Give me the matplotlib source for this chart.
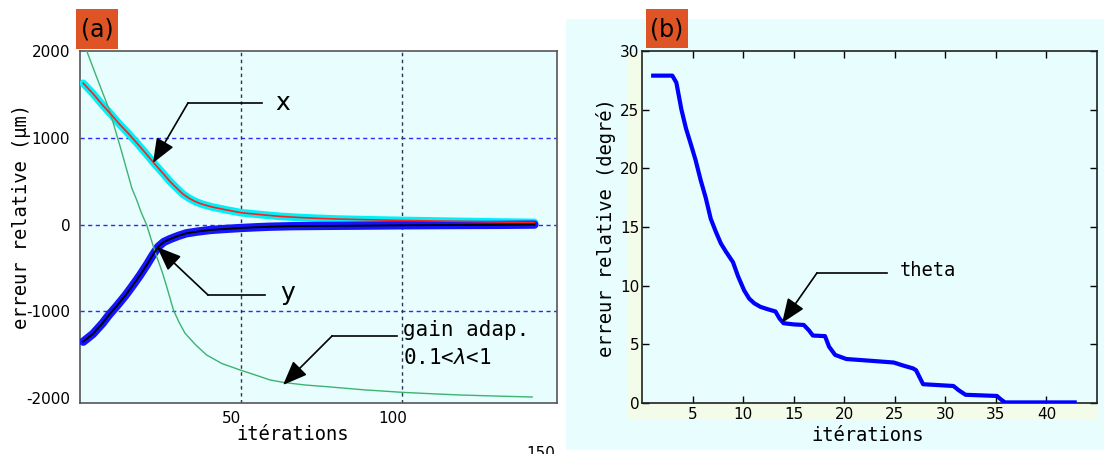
import matplotlib
matplotlib.use('Agg')
import matplotlib.pyplot as plt
from matplotlib.patches import Rectangle
from matplotlib.transforms import ScaledTranslation

plt.rcParams['axes.unicode_minus'] = False
plt.rcParams['font.family'] = ['DejaVu Sans']

# ---------------- data (a) ----------------
iters_x = [1, 4, 7, 10, 12, 15, 18, 21, 23, 26, 28, 30, 32, 34, 36, 38, 41, 44.5, 50,
           56, 62, 68, 74, 80, 87, 93, 100, 110, 120, 130, 141]
x_err = [1628, 1510, 1378, 1255, 1167, 1050, 925, 795, 706, 580, 494, 420, 350, 300, 262,
         234, 203, 176, 137, 115, 95, 82, 72, 64, 58, 53, 48, 42, 36, 30, 25]

iters_y = [1, 4, 7, 9, 11.4, 14, 16, 18.5, 20.7, 22.5, 24.3, 26, 28, 30.5, 33, 36.5,
           40.4, 45, 50, 55, 59, 66, 75, 87, 100, 115, 130, 141]
y_err = [-1349, -1260, -1137, -1040, -938, -820, -720, -590, -465, -355, -255, -200,
         -166, -130, -100, -80, -62, -50, -39, -30, -24, -18, -15, -12, -8, -5, -3, 0]

iters_g = [1, 2.1, 5, 9.3, 13, 16.1, 17.6, 19, 20.7, 22.2, 23.8, 25.5, 26.9, 29, 30.8,
           32.6, 36, 39.3, 44, 49.7, 55, 59, 63.7, 70, 76.6, 88, 99.9, 110, 118, 130, 140.3]
gain = [2110, 2000, 1715, 1300, 830, 418, 283, 140, -5, -185, -370, -545, -715, -984,
        -1130, -1252, -1390, -1502, -1600, -1675, -1740, -1790, -1821, -1848, -1867,
        -1903, -1932, -1950, -1963, -1976, -1986]

a_yticks = [-2000, -1000, 0, 1000, 2000]
a_xticks = [50, 100]

# ---------------- data (b) ----------------
iters_t = [0.9, 3.0, 3.4, 3.9, 4.35, 4.85, 5.3, 5.8, 6.3, 6.8, 7.3, 7.8, 8.3, 9.0, 9.5,
           10.1, 10.6, 11.1, 11.7, 12.4, 13.2, 13.6, 14.0, 15.0, 16.0, 16.5, 16.9, 18.1,
           18.5, 19.1, 20.2, 22.6, 24.9, 25.8, 26.8, 27.1, 27.8, 30.8, 31.3, 32.0, 35.1,
           35.5, 35.9, 43.0]
theta = [27.9, 27.9, 27.3, 25.0, 23.4, 22.0, 20.7, 19.0, 17.5, 15.7, 14.6, 13.6, 12.9,
         12.0, 10.8, 9.6, 8.9, 8.5, 8.2, 8.0, 7.8, 7.2, 6.8, 6.7, 6.65, 6.2, 5.75, 5.7,
         4.8, 4.1, 3.75, 3.6, 3.45, 3.2, 2.95, 2.8, 1.6, 1.45, 1.1, 0.7, 0.6, 0.3, 0.05, 0.05]

b_yticks = [0, 5, 10, 15, 20, 25, 30]
b_xticks = [5, 10, 15, 20, 25, 30, 35, 40]

W, H = 1104, 454
fig = plt.figure(figsize=(W / 100, H / 100), dpi=100)


def fbox(x0, y0, x1, y1):
    return [x0 / W, 1 - y1 / H, (x1 - x0) / W, (y1 - y0) / H]


# background panels
fig.patches.append(Rectangle((566 / W, 1 - 450 / H), (W - 566) / W, (450 - 19) / H,
                             transform=fig.transFigure, facecolor='#e8fdfd',
                             edgecolor='none', zorder=-3))
fig.patches.append(Rectangle((628 / W, 1 - 419 / H), (1097 - 628) / W, (419 - 54) / H,
                             transform=fig.transFigure, facecolor='#f3fbe9',
                             edgecolor='none', zorder=-2))

mono = 'DejaVu Sans Mono'
arrow_style = '-|>,head_length=1.5,head_width=0.6'

# ================= panel (a) =================
ax = fig.add_axes(fbox(80, 51, 557, 403))
ax.set_facecolor('#e8fdfd')
ax.set_xlim(0, 148)
ax.set_ylim(-2055, 2000)

for v in [1000, 0, -1000]:
    ax.axhline(v, color='#2a2aff', lw=1, ls=(0, (3, 2.5)), zorder=1)
for v in a_xticks:
    ax.axvline(v, color='#2b3550', lw=1, ls=(0, (2.5, 2.5)), zorder=1)

ax.plot(iters_x, x_err, color='#00f0f8', lw=5.5, solid_capstyle='round', zorder=3)
ax.plot(iters_y, y_err, color='#1414ff', lw=6, solid_capstyle='round', zorder=4)
ax.plot(iters_g, gain, color='#3cb371', lw=1.0, zorder=5)
ax.plot(iters_x, x_err, color='#ff2020', lw=1.2, zorder=6)
ax.plot(iters_y, y_err, color='black', lw=1.3, zorder=7)

ax.set_yticks(a_yticks)
ax.set_yticklabels([str(v) for v in a_yticks])
ax.set_xticks(a_xticks)
ax.set_xticklabels([str(v) for v in a_xticks])
ax.tick_params(length=0, labelsize=11, pad=7)
ax.tick_params(axis='x', pad=6)
for lab in ax.get_xticklabels():
    lab.set_transform(lab.get_transform() + ScaledTranslation(-9.5 / 100, 0, fig.dpi_scale_trans))
for s in ax.spines.values():
    s.set_color('#555555')
    s.set_linewidth(1.2)

ax.set_xlabel('itérations', fontsize=13.5, family=mono)
ax.xaxis.set_label_coords(0.445, -0.062)
ax.xaxis.label.set_va('top')
ax.set_ylabel('erreur relative (µm)', fontsize=13.5, family=mono)
ax.yaxis.set_label_coords(-0.122, 0.53)
ax.yaxis.label.set_va('center')

# annotations (a)
ax.plot([56.5, 33.5], [1401, 1401], color='black', lw=1.2, zorder=8)
ax.annotate('', xy=(22.65, 710), xytext=(33.5, 1401),
            arrowprops=dict(arrowstyle=arrow_style, color='black', lw=1.2,
                            shrinkA=0, shrinkB=0), zorder=8)
ax.text(63.0, 1401, 'x', fontsize=18, ha='center', va='center')

ax.plot([57.4, 39.7], [-810, -810], color='black', lw=1.2, zorder=8)
ax.annotate('', xy=(23.9, -257), xytext=(39.7, -810),
            arrowprops=dict(arrowstyle=arrow_style, color='black', lw=1.2,
                            shrinkA=0, shrinkB=0), zorder=8)
ax.text(64.5, -790, 'y', fontsize=18, ha='center', va='center')

ax.plot([98.4, 78.2], [-1283, -1283], color='black', lw=1.2, zorder=8)
ax.annotate('', xy=(63.0, -1847), xytext=(78.2, -1283),
            arrowprops=dict(arrowstyle=arrow_style, color='black', lw=1.2,
                            shrinkA=0, shrinkB=0), zorder=8)
ax.text(100.2, -1214, 'gain adap.', fontsize=15, family=mono, ha='left', va='center')
ax.text(100.2, -1536, '0.1<$\\lambda$<1', fontsize=15, family=mono, ha='left', va='center')

# (a) label box
fig.patches.append(Rectangle((76 / W, 1 - 49 / H), 42 / W, 40 / H, transform=fig.transFigure,
                             facecolor='#de5424', edgecolor='none', zorder=2))
fig.text(97 / W, 1 - 30 / H, '(a)', fontsize=17, ha='center', va='center', zorder=3)
fig.text(541 / W, 1 - 446 / H, '150', fontsize=11, ha='center', va='top')

# ================= panel (b) =================
bx = fig.add_axes(fbox(642, 51, 1097, 403))
bx.set_facecolor('#e8fdfd')
bx.set_xlim(0, 45)
bx.set_ylim(0, 30)
bx.plot(iters_t, theta, color='#0000ff', lw=3.0, solid_capstyle='butt', zorder=3)
bx.set_yticks(b_yticks)
bx.set_xticks(b_xticks)
bx.tick_params(direction='in', length=5, width=1, labelsize=11, pad=2,
               top=True, right=True, colors='black')
bx.tick_params(axis='x', pad=3)
for s in bx.spines.values():
    s.set_color('#222222')
    s.set_linewidth(1.2)
bx.set_xlabel('itérations', fontsize=13.5, family=mono)
bx.xaxis.set_label_coords(0.495, -0.065)
bx.xaxis.label.set_va('top')
bx.set_ylabel('erreur relative (degré)', fontsize=13.5, family=mono)
bx.yaxis.set_label_coords(-0.079, 0.497)
bx.yaxis.label.set_va('center')

bx.plot([24.2, 17.3], [11.08, 11.08], color='black', lw=1.2, zorder=8)
bx.annotate('', xy=(13.85, 6.82), xytext=(17.3, 11.08),
            arrowprops=dict(arrowstyle=arrow_style, color='black', lw=1.2,
                            shrinkA=0, shrinkB=0), zorder=8)
bx.text(28.3, 11.25, 'theta', fontsize=13.5, family=mono, ha='center', va='center')

fig.patches.append(Rectangle((646 / W, 1 - 48 / H), 42 / W, 39 / H, transform=fig.transFigure,
                             facecolor='#de5424', edgecolor='none', zorder=2))
fig.text(667 / W, 1 - 29 / H, '(b)', fontsize=17, ha='center', va='center', zorder=3)

fig.savefig('out.png', dpi=100)
